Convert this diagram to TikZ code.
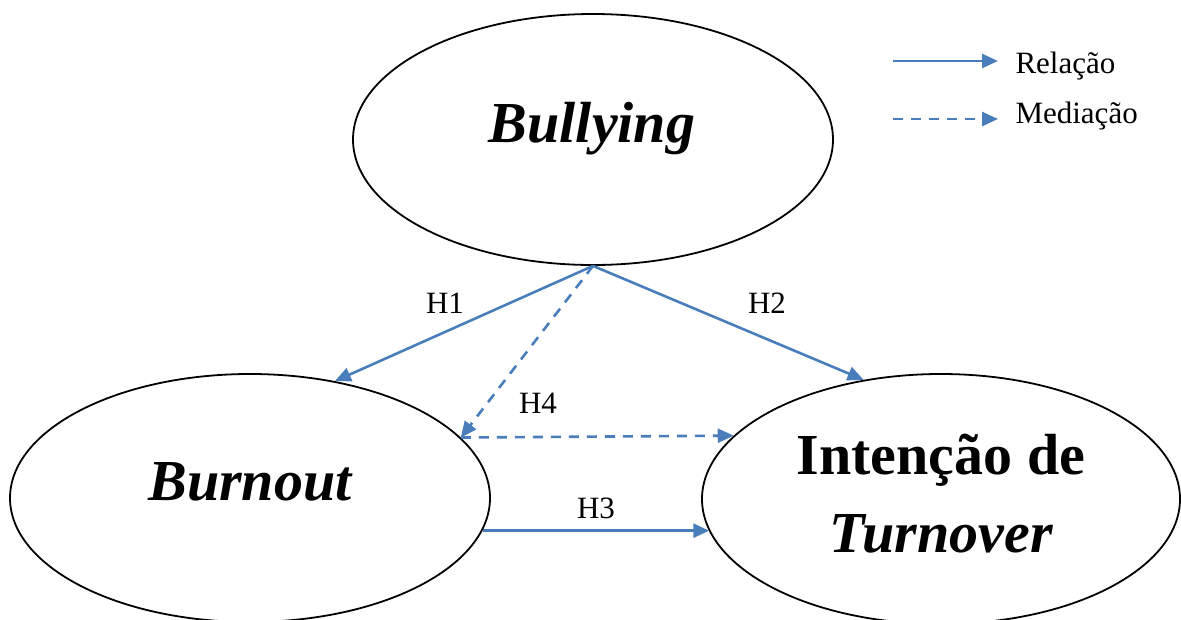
\documentclass[tikz,border=0pt]{standalone}
\usepackage{fontspec}
\setmainfont{Liberation Serif}
\usetikzlibrary{shapes.geometric,arrows.meta}

\definecolor{arrowblue}{RGB}{74,126,187}

\tikzset{
  var/.style={ellipse, draw, line width=1.8pt, inner sep=0pt},
  rel/.style={arrowblue, line width=2.6pt, -{Triangle[length=16pt,width=14pt]}},
  med/.style={rel, dash pattern=on 10pt off 8pt},
  big/.style={font=\fontsize{58}{70}\selectfont\bfseries, anchor=base},
  hyp/.style={font=\fontsize{31}{37}\selectfont, anchor=base},
}

\begin{document}
\begin{tikzpicture}[x=1pt, y=-1pt]
      \clip (0,0) rectangle (1181,619);
      % Bullying
      \node[var, minimum width=480pt, minimum height=251pt] (bul) at (593,139.5) {};
      \node[big] (bul-txt) at (592,142) {\itshape Bullying};
      % Burnout
      \node[var, minimum width=480pt, minimum height=248pt] (bur) at (250,498) {};
      \node[big] (bur-txt) at (250,500) {\itshape Burnout};
      % Intencao de Turnover
      \node[var, minimum width=478pt, minimum height=250pt] (tur) at (941,499) {};
      \node[big] (tur-txt1) at (941,474) {Intenção de};
      \node[big] (tur-txt2) at (941,552) {\itshape Turnover};
      % relacoes
      \draw[rel] (bul.south) -- (bur.54);
      \draw[rel] (bul.south) -- (tur.123);
      \draw[rel] (bur.-8) -- (bur.-8 -| tur.188);
      % mediacao
      \draw[med] (bul.south) -- (bur.16);
      \draw[med] (bur.16) -- (tur.163);
      % hipoteses
      \node[hyp] (h1) at (445,313) {H1};
      \node[hyp] (h2) at (767,313) {H2};
      \node[hyp] (h3) at (596,518) {H3};
      \node[hyp] (h4) at (538,413) {H4};
      % legenda
      \coordinate (rel-a) at (893,61);
      \coordinate (rel-b) at (998,61);
      \coordinate (med-a) at (893,119);
      \coordinate (med-b) at (998,119);
      \draw[rel] (rel-a) -- (rel-b);
      \draw[med] (med-a) -- (med-b);
      \node[hyp, anchor=base west] (rel-txt) at (1012,73) {Relação};
      \node[hyp, anchor=base west] (med-txt) at (1012,123) {Mediação};
\end{tikzpicture}
\end{document}
